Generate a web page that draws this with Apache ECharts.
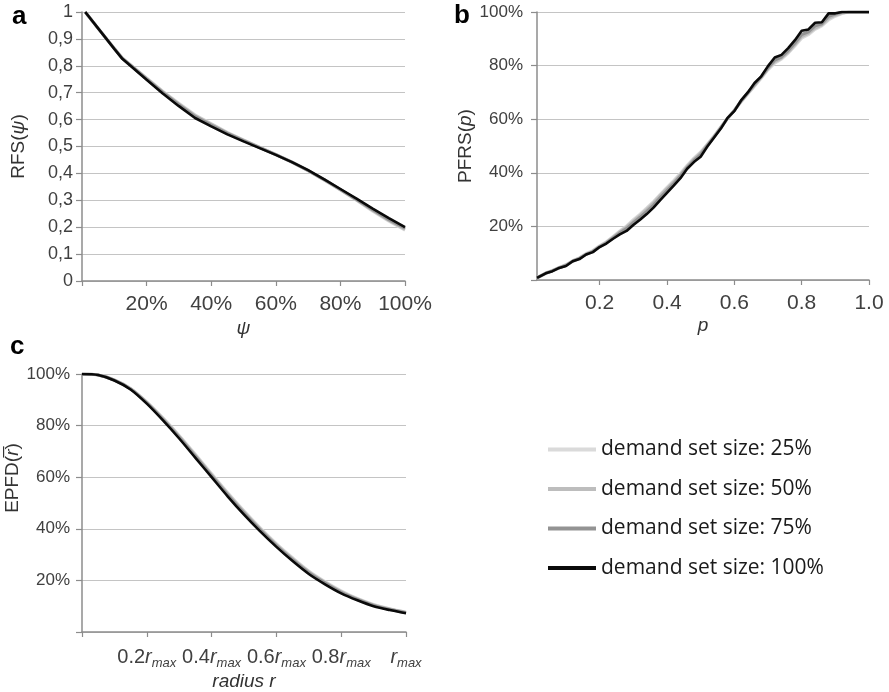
<!DOCTYPE html>
<html>
<head>
<meta charset="utf-8">
<script src="https://cdn.jsdelivr.net/npm/echarts@6/dist/echarts.min.js"></script>
<style>
  html, body { margin: 0; padding: 0; background: #fff; }
  #chart { width: 889px; height: 692px; }
</style>
</head>
<body>
<div id="chart"></div>
<script>
// series names (legend)
var setNames = ['demand set size: 25%', 'demand set size: 50%', 'demand set size: 75%', 'demand set size: 100%'];

// panel a: RFS(psi)
var psiValues = [0.01, 0.05, 0.1, 0.125, 0.15, 0.2, 0.25, 0.3, 0.35, 0.4, 0.45, 0.5, 0.55, 0.6, 0.65, 0.7, 0.75, 0.8, 0.85, 0.9, 0.95, 1.0];
var rfs25  = [1.0, 0.939, 0.865, 0.829, 0.804, 0.755, 0.706, 0.661, 0.618, 0.585, 0.553, 0.525, 0.498, 0.471, 0.442, 0.410, 0.375, 0.338, 0.300, 0.259, 0.222, 0.189];
var rfs50  = [1.0, 0.939, 0.864, 0.828, 0.803, 0.753, 0.704, 0.658, 0.615, 0.583, 0.551, 0.524, 0.497, 0.470, 0.442, 0.410, 0.376, 0.339, 0.301, 0.262, 0.225, 0.192];
var rfs75  = [1.0, 0.939, 0.864, 0.827, 0.802, 0.751, 0.701, 0.655, 0.612, 0.580, 0.549, 0.522, 0.496, 0.470, 0.442, 0.411, 0.377, 0.340, 0.303, 0.265, 0.228, 0.196];
var rfs100 = [1.0, 0.939, 0.863, 0.826, 0.800, 0.748, 0.697, 0.650, 0.606, 0.575, 0.545, 0.519, 0.494, 0.469, 0.442, 0.412, 0.378, 0.342, 0.306, 0.269, 0.234, 0.200];
var rfsYLabels = ['0', '0,1', '0,2', '0,3', '0,4', '0,5', '0,6', '0,7', '0,8', '0,9', '1'];
var psiXLabels = ['', '20%', '40%', '60%', '80%', '100%'];

// panel b: PFRS(p)
var pValues = [0.014, 0.04, 0.06, 0.08, 0.10, 0.12, 0.14, 0.16, 0.18, 0.20, 0.22, 0.24, 0.26, 0.28, 0.30, 0.32, 0.34, 0.36, 0.38, 0.40,
               0.42, 0.44, 0.46, 0.48, 0.50, 0.52, 0.54, 0.56, 0.58, 0.60, 0.62, 0.64, 0.66, 0.68, 0.70, 0.72, 0.74, 0.76, 0.78, 0.80,
               0.82, 0.84, 0.86, 0.88, 0.90, 0.92, 0.94, 0.96, 0.98, 1.00];
var pfrs25  = [0.8, 2.6, 3.6, 4.7, 5.7, 7.2, 8.3, 9.9, 11.0, 12.8, 14.3, 16.3, 18.3, 20.2, 22.5, 24.6, 26.9, 29.3, 32.0, 34.6,
               37.1, 39.8, 42.8, 45.5, 47.8, 50.8, 53.8, 57.1, 60.2, 63.3, 66.4, 69.4, 72.3, 75.3, 78.4, 80.9, 82.4, 84.6, 87.3, 90.2,
               91.5, 93.5, 94.8, 97.0, 98.4, 99.4, 100, 100, 100, 100];
var pfrs50  = [0.8, 2.6, 3.5, 4.6, 5.6, 7.1, 8.2, 9.7, 10.8, 12.6, 14.1, 16.0, 18.0, 19.8, 22.0, 24.1, 26.4, 28.8, 31.5, 34.1,
               36.6, 39.4, 42.4, 45.1, 47.4, 50.5, 53.6, 57.0, 60.3, 63.3, 66.6, 69.6, 72.6, 75.6, 78.8, 81.4, 82.8, 85.0, 87.8, 90.8,
               92.0, 94.0, 95.2, 97.6, 98.8, 99.6, 100, 100, 100, 100];
var pfrs75  = [0.8, 2.5, 3.4, 4.5, 5.4, 7.0, 8.0, 9.6, 10.6, 12.4, 13.8, 15.7, 17.6, 19.2, 21.4, 23.4, 25.6, 28.0, 30.8, 33.4,
               36.0, 38.8, 42.0, 44.6, 46.8, 50.2, 53.4, 56.8, 60.4, 63.2, 66.8, 69.8, 73.0, 75.8, 79.2, 82.0, 83.2, 85.6, 88.4, 91.6,
               92.6, 94.8, 95.6, 98.4, 99.2, 100, 100, 100, 100, 100];
var pfrs100 = [0.8, 2.5, 3.3, 4.5, 5.2, 7.0, 7.8, 9.5, 10.4, 12.3, 13.6, 15.4, 17.0, 18.3, 20.5, 22.5, 24.6, 27.0, 29.8, 32.5,
               35.2, 38.0, 41.5, 44.0, 46.0, 49.8, 53.2, 56.5, 60.5, 63.0, 67.0, 70.0, 73.5, 76.0, 79.8, 83.0, 84.0, 86.5, 89.5, 93.0,
               93.5, 96.0, 96.2, 99.5, 99.5, 100, 100, 100, 100, 100];
var pTicks = [0.2, 0.4, 0.6, 0.8, 1.0];
var pXLabels = ['0.2', '0.4', '0.6', '0.8', '1.0'];
var pctLabels = ['', '20%', '40%', '60%', '80%', '100%'];

// panel c: EPFD(r)
var rValues = [0, 0.05, 0.1, 0.15, 0.2, 0.25, 0.3, 0.35, 0.4, 0.45, 0.5, 0.55, 0.6, 0.65, 0.7, 0.75, 0.8, 0.85, 0.9, 0.95, 1.0];
var epfd25  = [100, 99.6, 97.7, 94.4, 89.2, 83.0, 76.2, 68.9, 61.4, 54.0, 47.0, 40.4, 34.3, 28.8, 23.7, 19.6, 16.0, 13.0, 10.7, 9.0, 7.7];
var epfd50  = [100, 99.6, 97.6, 94.3, 89.0, 82.7, 75.9, 68.5, 61.0, 53.6, 46.6, 40.0, 33.9, 28.4, 23.4, 19.3, 15.7, 12.8, 10.5, 8.9, 7.6];
var epfd75  = [100, 99.6, 97.6, 94.2, 88.8, 82.4, 75.5, 68.1, 60.6, 53.1, 46.1, 39.6, 33.5, 28.0, 23.0, 19.0, 15.4, 12.6, 10.3, 8.7, 7.5];
var epfd100 = [100, 99.6, 97.5, 94.0, 88.5, 82.0, 75.0, 67.5, 60.0, 52.5, 45.5, 39.0, 33.0, 27.5, 22.5, 18.5, 15.0, 12.3, 10.0, 8.5, 7.3];
var rXLabels = ['', '0.2', '0.4', '0.6', '0.8', ''];

var lineColors = ['#dadada', '#bdbdbd', '#939393', '#0a0a0a'];
var lineWidths = [3, 3, 3, 2.6];

function pairs(xs, ys) {
  return xs.map(function (x, i) { return [x, ys[i]]; });
}

var axisGray = '#8c8c8c';
var labelColor = '#404040';
var baseFont = 'Liberation Sans';

function xAxisBase(idx) {
  return {
    type: 'value',
    gridIndex: idx,
    axisLine: { show: true, lineStyle: { color: axisGray, width: 1.5 } },
    axisTick: { show: true, length: 5, lineStyle: { color: axisGray, width: 1.2 } },
    splitLine: { show: false },
    axisLabel: { color: labelColor, fontSize: 21, fontFamily: baseFont, margin: 13 },
    nameLocation: 'middle',
    nameTextStyle: { color: '#333', fontSize: 19, fontStyle: 'italic', fontFamily: baseFont }
  };
}
function yAxisBase(idx) {
  return {
    type: 'value',
    gridIndex: idx,
    axisLine: { show: true, lineStyle: { color: axisGray, width: 1.5 } },
    axisTick: { show: true, length: 6, lineStyle: { color: axisGray, width: 1.2 } },
    splitLine: { show: true, lineStyle: { color: '#c4c4c4', width: 1.2 } },
    axisLabel: { color: labelColor, fontSize: 17, fontFamily: baseFont, margin: 12 },
    nameLocation: 'middle',
    nameRotate: 90
  };
}

var xa = xAxisBase(0);
xa.min = 0; xa.max = 1; xa.interval = 0.2;
xa.axisLabel.formatter = function (v) { return psiXLabels[Math.round(v * 5)]; };
xa.name = 'ψ'; xa.nameGap = 38;

var xb = xAxisBase(1);
xb.min = 0.014; xb.max = 1;
xb.axisLabel.customValues = pTicks;
xb.axisTick.customValues = pTicks;
xb.axisLabel.formatter = function (v) { return pXLabels[Math.round(v * 5) - 1]; };
xb.name = 'p'; xb.nameGap = 36;

var xc = xAxisBase(2);
xc.min = 0; xc.max = 1; xc.interval = 0.2;
xc.axisLabel.formatter = function (v) {
  var i = Math.round(v * 5);
  if (i === 0) return '';
  return (rXLabels[i] ? '{n|' + rXLabels[i] + '}' : '') + '{r|r}{s|max}';
};
xc.axisLabel.rich = {
  n: { fontSize: 20, color: labelColor, fontFamily: baseFont },
  r: { fontSize: 20, color: labelColor, fontStyle: 'italic', fontFamily: baseFont },
  s: { fontSize: 13, color: labelColor, fontStyle: 'italic', fontFamily: baseFont, verticalAlign: 'bottom', padding: [12, 0, 0, 0] }
};
xc.name = 'radius r'; xc.nameGap = 40;

var ya = yAxisBase(0);
ya.min = 0; ya.max = 1; ya.interval = 0.1;
ya.axisLabel.formatter = function (v) { return rfsYLabels[Math.round(v * 10)]; };
ya.axisLabel.fontSize = 18;
ya.axisLabel.margin = 9;
ya.name = '{t|RFS(}{i|ψ}{t|)}'; ya.nameGap = 54;
ya.nameTextStyle = { rich: {
  t: { fontSize: 19, color: '#333', fontFamily: baseFont },
  i: { fontSize: 19, color: '#333', fontFamily: baseFont, fontStyle: 'italic' }
} };

var yb = yAxisBase(1);
yb.min = 0; yb.max = 100; yb.interval = 20;
yb.axisLabel.formatter = function (v) { return pctLabels[Math.round(v / 20)]; };
yb.axisLabel.margin = 14;
yb.name = '{t|PFRS(}{i|p}{t|)}'; yb.nameGap = 60;
yb.nameTextStyle = ya.nameTextStyle;

var yc = yAxisBase(2);
yc.min = 0; yc.max = 100; yc.interval = 20;
yc.axisLabel.formatter = function (v) { return pctLabels[Math.round(v / 20)]; };
yc.name = '{t|EPFD(}{i|r\u0305}{t|)}'; yc.nameGap = 56;
yc.nameTextStyle = { padding: [0, 0, 0, 50], rich: ya.nameTextStyle.rich };

var panels = [
  { xs: psiValues, ys: [rfs25, rfs50, rfs75, rfs100], smooth: false },
  { xs: pValues, ys: [pfrs25, pfrs50, pfrs75, pfrs100], smooth: false },
  { xs: rValues, ys: [epfd25, epfd50, epfd75, epfd100], smooth: 0.3 }
];

var series = [];
panels.forEach(function (pn, g) {
  pn.ys.forEach(function (ys, k) {
    series.push({
      name: setNames[k],
      type: 'line',
      xAxisIndex: g,
      yAxisIndex: g,
      data: pairs(pn.xs, ys),
      showSymbol: false,
      smooth: pn.smooth,
      color: lineColors[k],
      lineStyle: { color: lineColors[k], width: lineWidths[k] },
      z: 2 + k
    });
  });
});

var chart = echarts.init(document.getElementById('chart'), null, { renderer: 'canvas' });
chart.setOption({
  animation: false,
  backgroundColor: '#fff',
  grid: [
    { left: 82, top: 12, width: 323, height: 269 },
    { left: 537, top: 12, width: 332, height: 268 },
    { left: 82, top: 374, width: 324, height: 258 }
  ],
  xAxis: [xa, xb, xc],
  yAxis: [ya, yb, yc],
  legend: {
    orient: 'vertical',
    left: 548,
    top: 439,
    padding: 0,
    itemWidth: 48,
    itemHeight: 4,
    itemGap: 18.5,
    icon: 'rect',
    selectedMode: false,
    textStyle: { fontFamily: 'Open Sans', fontSize: 21, color: '#1a1a1a' },
    data: setNames
  },
  graphic: [
    { type: 'text', left: 12, top: 4, style: { text: 'a', font: 'bold 26px "Liberation Sans"', fill: '#000' } },
    { type: 'text', left: 454, top: 3, style: { text: 'b', font: 'bold 26px "Liberation Sans"', fill: '#000' } },
    { type: 'text', left: 10, top: 334, style: { text: 'c', font: 'bold 26px "Liberation Sans"', fill: '#000' } }
  ],
  series: series
});
</script>
</body>
</html>
